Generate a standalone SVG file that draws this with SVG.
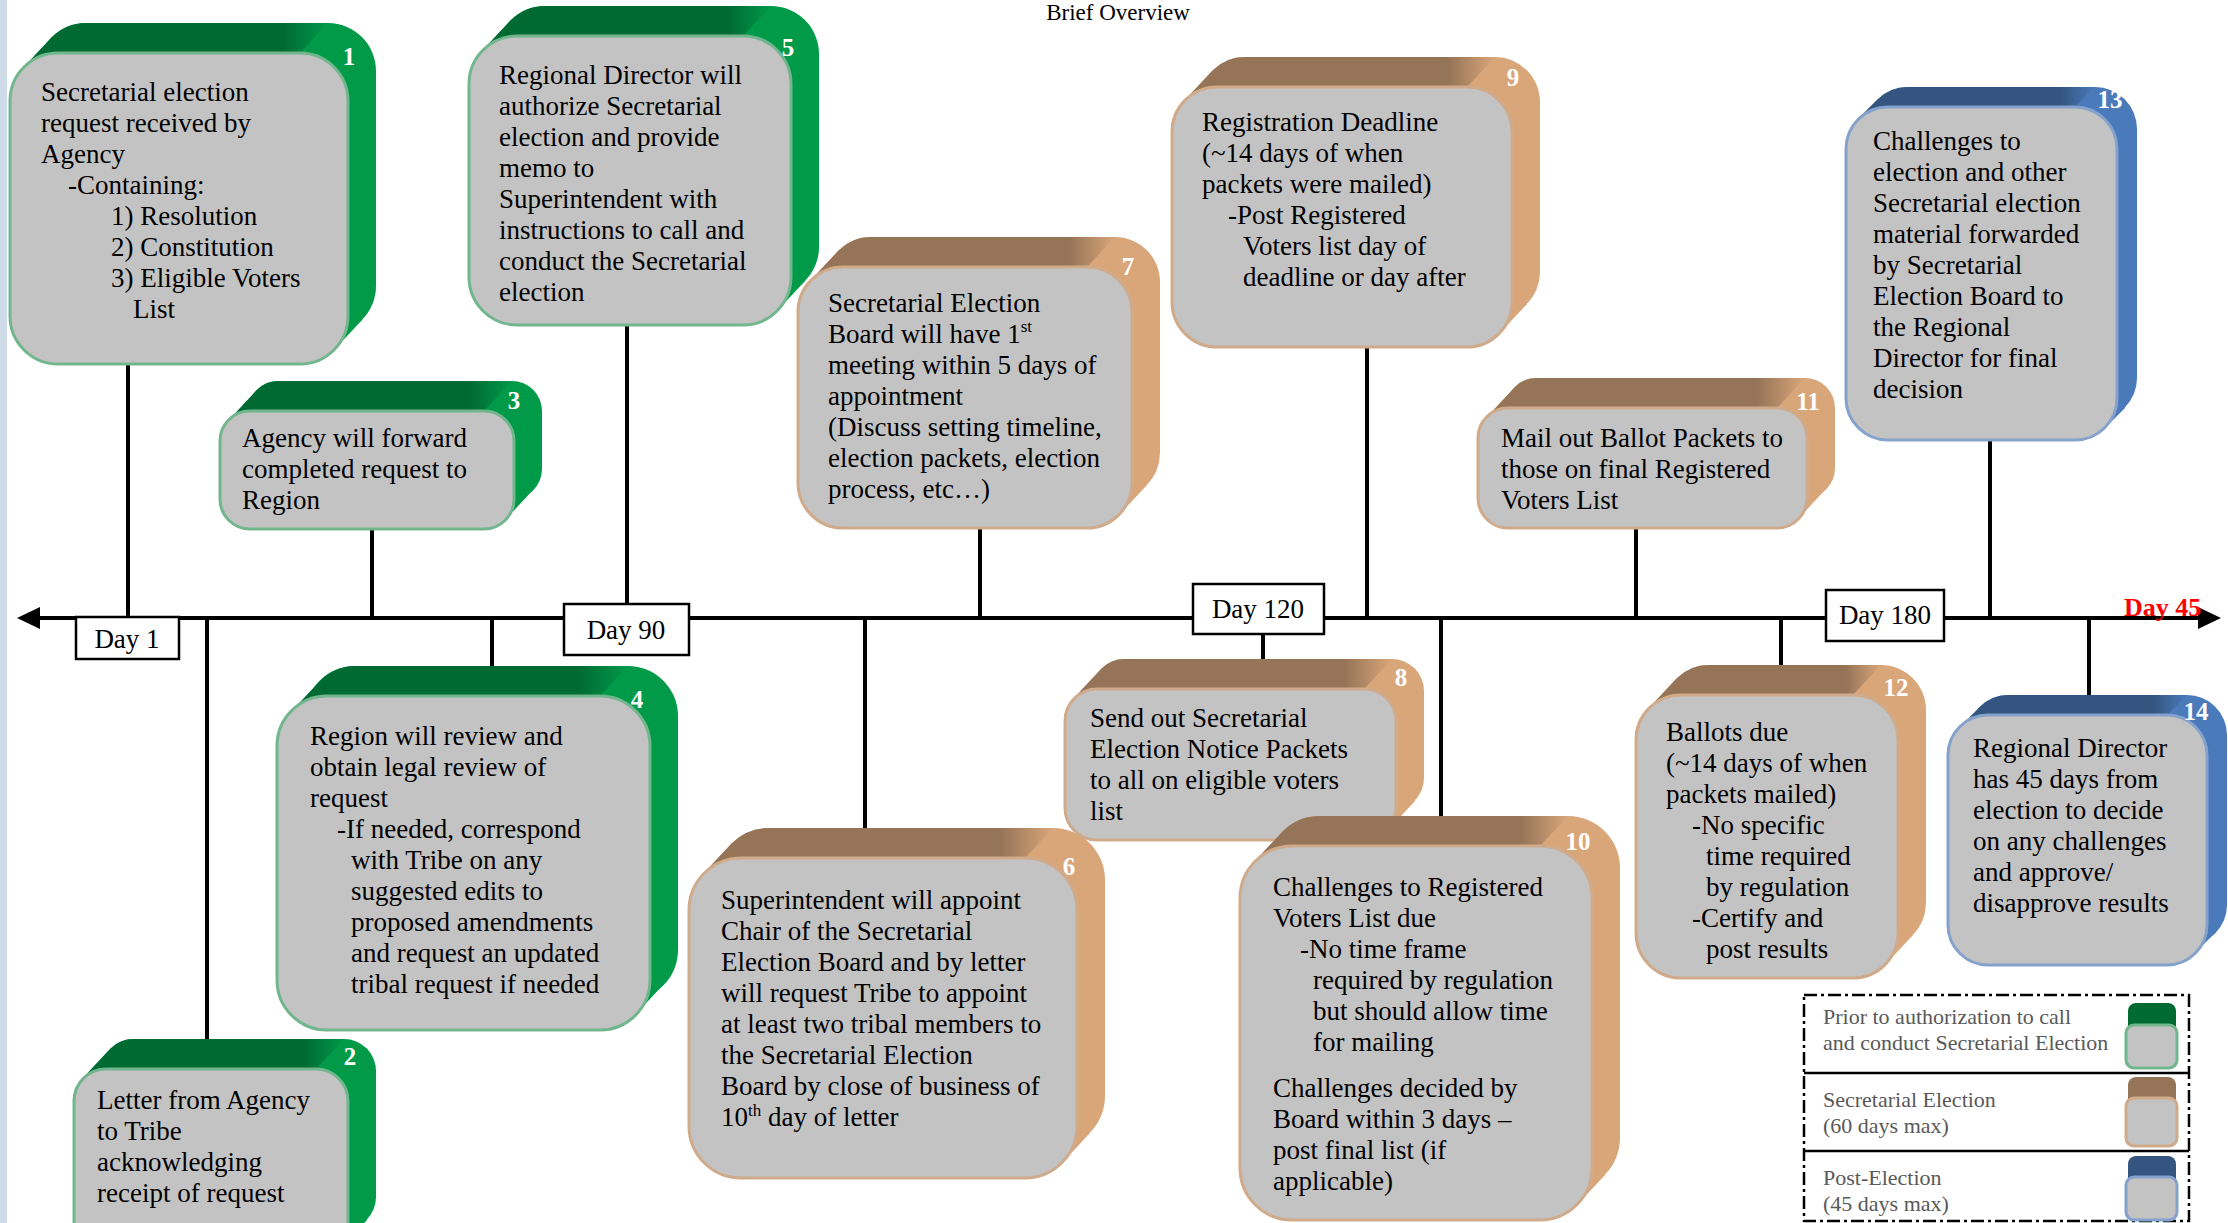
<svg xmlns="http://www.w3.org/2000/svg" width="2228" height="1223" viewBox="0 0 2228 1223">
<defs>
<linearGradient id="gTop" x1="0" y1="0" x2="1" y2="0"><stop offset="0" stop-color="#006a33"/><stop offset="0.85" stop-color="#006a33"/><stop offset="1" stop-color="#00994a"/></linearGradient>
<linearGradient id="bTop" x1="0" y1="0" x2="1" y2="0"><stop offset="0" stop-color="#967457"/><stop offset="0.85" stop-color="#967457"/><stop offset="1" stop-color="#d9a67a"/></linearGradient>
<linearGradient id="uTop" x1="0" y1="0" x2="1" y2="0"><stop offset="0" stop-color="#33557f"/><stop offset="0.85" stop-color="#33557f"/><stop offset="1" stop-color="#4a7aba"/></linearGradient>
</defs>
<style>
.face{fill:#c3c3c3;stroke-width:3}
.g .face{stroke:#72b68e}.g .side{fill:#009a48}.g .top{fill:url(#gTop)}
.b .face{stroke:#cfab8c}.b .side{fill:#d9a67a}.b .top{fill:url(#bTop)}
.u .face{stroke:#84a2cb}.u .side{fill:#4a7aba}.u .top{fill:url(#uTop)}
.t{font-family:"Liberation Serif","Times New Roman",serif;font-size:27px;fill:#000}
.n{font-family:"Liberation Serif",serif;font-size:25px;font-weight:bold;fill:#fff;text-anchor:middle}
.day{fill:#fff;stroke:#000;stroke-width:2.5}
.dt{font-family:"Liberation Serif",serif;font-size:27px;fill:#000;text-anchor:middle}
.con line{stroke:#000;stroke-width:4}
.lg{font-family:"Liberation Serif",serif;font-size:22px;fill:#595959}
</style>
<rect x="0" y="0" width="2228" height="1223" fill="#fff"/>
<rect x="0" y="0" width="7" height="1223" fill="#cfdce8"/>
<text x="1118" y="20" font-family="Liberation Serif,serif" font-size="23" text-anchor="middle">Brief Overview</text>

<g id="connectors" class="con">
<line x1="22" y1="618" x2="2205" y2="618" stroke-width="6"/>
<line x1="128" y1="364" x2="128" y2="618"/>
<line x1="207" y1="618" x2="207" y2="1040"/>
<line x1="372" y1="529" x2="372" y2="618"/>
<line x1="492" y1="618" x2="492" y2="667"/>
<line x1="627" y1="325" x2="627" y2="604"/>
<line x1="865" y1="618" x2="865" y2="829"/>
<line x1="980" y1="528" x2="980" y2="618"/>
<line x1="1263" y1="634" x2="1263" y2="660"/>
<line x1="1367" y1="347" x2="1367" y2="618"/>
<line x1="1441" y1="618" x2="1441" y2="817"/>
<line x1="1636" y1="528" x2="1636" y2="618"/>
<line x1="1781" y1="618" x2="1781" y2="666"/>
<line x1="1990" y1="440" x2="1990" y2="618"/>
<line x1="2089" y1="618" x2="2089" y2="696"/>
<polygon points="17,618 40,607 40,629" fill="#000"/>
<polygon points="2221,618 2198,607 2198,629" fill="#000"/>
</g>

<g id="days">
<rect class="day" x="76" y="617" width="103" height="42"/><text class="dt" x="127" y="648">Day 1</text>
<rect class="day" x="564" y="604" width="125" height="51"/><text class="dt" x="626" y="639">Day 90</text>
<rect class="day" x="1193" y="584" width="131" height="50"/><text class="dt" x="1258" y="618">Day 120</text>
<rect class="day" x="1826" y="590" width="118" height="51"/><text class="dt" x="1885" y="624">Day 180</text>
<text x="2124" y="616" font-family="Liberation Serif,serif" font-size="26" font-weight="bold" fill="#ff0000">Day 45</text>
</g>

<g id="node1" class="g">
<g transform="translate(10,53)">
<rect class="side" x="28" y="-30" width="338" height="311" rx="48"/>
<polygon class="side" points="14,14 42,-16 352,267 324,297"/>
<path class="top" d="M14,14 L42,-16 A48 48 0 0 1 76,-30 H318 L290,0 H48 Z"/>
<rect class="face" width="338" height="311" rx="48"/>
</g>
<text class="n" x="349" y="65">1</text>
<text class="t" x="41" y="101">Secretarial election<tspan x="41" dy="31">request received by</tspan><tspan x="41" dy="31">Agency</tspan><tspan x="68" dy="31">-Containing:</tspan><tspan x="111" dy="31">1) Resolution</tspan><tspan x="111" dy="31">2) Constitution</tspan><tspan x="111" dy="31">3) Eligible Voters</tspan><tspan x="133" dy="31">List</tspan></text>
</g>

<g id="node2" class="g">
<g transform="translate(74,1069)">
<rect class="side" x="28" y="-30" width="274" height="190" rx="32"/>
<polygon class="side" points="9,9 37,-21 293,151 265,181"/>
<path class="top" d="M9,9 L37,-21 A32 32 0 0 1 60,-30 H270 L242,0 H32 Z"/>
<rect class="face" width="274" height="190" rx="32"/>
</g>
<text class="n" x="350" y="1065">2</text>
<text class="t" x="97" y="1109">Letter from Agency<tspan x="97" dy="31">to Tribe</tspan><tspan x="97" dy="31">acknowledging</tspan><tspan x="97" dy="31">receipt of request</tspan></text>
</g>

<g id="node3" class="g">
<g transform="translate(220,411)">
<rect class="side" x="28" y="-30" width="294" height="118" rx="30"/>
<polygon class="side" points="9,9 37,-21 313,79 285,109"/>
<path class="top" d="M9,9 L37,-21 A30 30 0 0 1 58,-30 H292 L264,0 H30 Z"/>
<rect class="face" width="294" height="118" rx="30"/>
</g>
<text class="n" x="514" y="409">3</text>
<text class="t" x="242" y="447">Agency will forward<tspan x="242" dy="31">completed request to</tspan><tspan x="242" dy="31">Region</tspan></text>
</g>

<g id="node4" class="g">
<g transform="translate(277,696)">
<rect class="side" x="28" y="-30" width="373" height="334" rx="50"/>
<polygon class="side" points="15,15 43,-15 386,289 358,319"/>
<path class="top" d="M15,15 L43,-15 A50 50 0 0 1 78,-30 H351 L323,0 H50 Z"/>
<rect class="face" width="373" height="334" rx="50"/>
</g>
<text class="n" x="637" y="708">4</text>
<text class="t" x="310" y="745">Region will review and<tspan x="310" dy="31">obtain legal review of</tspan><tspan x="310" dy="31">request</tspan><tspan x="337" dy="31">-If needed, correspond</tspan><tspan x="351" dy="31">with Tribe on any</tspan><tspan x="351" dy="31">suggested edits to</tspan><tspan x="351" dy="31">proposed amendments</tspan><tspan x="351" dy="31">and request an updated</tspan><tspan x="351" dy="31">tribal request if needed</tspan></text>
</g>

<g id="node5" class="g">
<g transform="translate(469,36)">
<rect class="side" x="28" y="-30" width="322" height="289" rx="48"/>
<polygon class="side" points="14,14 42,-16 336,245 308,275"/>
<path class="top" d="M14,14 L42,-16 A48 48 0 0 1 76,-30 H302 L274,0 H48 Z"/>
<rect class="face" width="322" height="289" rx="48"/>
</g>
<text class="n" x="788" y="56">5</text>
<text class="t" x="499" y="84">Regional Director will<tspan x="499" dy="31">authorize Secretarial</tspan><tspan x="499" dy="31">election and provide</tspan><tspan x="499" dy="31">memo to</tspan><tspan x="499" dy="31">Superintendent with</tspan><tspan x="499" dy="31">instructions to call and</tspan><tspan x="499" dy="31">conduct the Secretarial</tspan><tspan x="499" dy="31">election</tspan></text>
</g>

<g id="node6" class="b">
<g transform="translate(689,858)">
<rect class="side" x="28" y="-30" width="388" height="320" rx="52"/>
<polygon class="side" points="15,15 43,-15 401,275 373,305"/>
<path class="top" d="M15,15 L43,-15 A52 52 0 0 1 80,-30 H364 L336,0 H52 Z"/>
<rect class="face" width="388" height="320" rx="52"/>
</g>
<text class="n" x="1069" y="875">6</text>
<text class="t" x="721" y="909">Superintendent will appoint<tspan x="721" dy="31">Chair of the Secretarial</tspan><tspan x="721" dy="31">Election Board and by letter</tspan><tspan x="721" dy="31">will request Tribe to appoint</tspan><tspan x="721" dy="31">at least two tribal members to</tspan><tspan x="721" dy="31">the Secretarial Election</tspan><tspan x="721" dy="31">Board by close of business of</tspan><tspan x="721" dy="31">10</tspan><tspan dy="-10" font-size="17">th</tspan><tspan dy="10"> day of letter</tspan></text>
</g>

<g id="node7" class="b">
<g transform="translate(798,267)">
<rect class="side" x="28" y="-30" width="334" height="261" rx="45"/>
<polygon class="side" points="13,13 41,-17 349,218 321,248"/>
<path class="top" d="M13,13 L41,-17 A45 45 0 0 1 73,-30 H317 L289,0 H45 Z"/>
<rect class="face" width="334" height="261" rx="45"/>
</g>
<text class="n" x="1128" y="275">7</text>
<text class="t" x="828" y="312">Secretarial Election<tspan x="828" dy="31">Board will have 1</tspan><tspan dy="-11" font-size="17">st</tspan><tspan x="828" dy="42">meeting within 5 days of</tspan><tspan x="828" dy="31">appointment</tspan><tspan x="828" dy="31">(Discuss setting timeline,</tspan><tspan x="828" dy="31">election packets, election</tspan><tspan x="828" dy="31">process, etc…)</tspan></text>
</g>

<g id="node8" class="b">
<g transform="translate(1065,689)">
<rect class="side" x="28" y="-30" width="331" height="151" rx="32"/>
<polygon class="side" points="9,9 37,-21 350,112 322,142"/>
<path class="top" d="M9,9 L37,-21 A32 32 0 0 1 60,-30 H327 L299,0 H32 Z"/>
<rect class="face" width="331" height="151" rx="32"/>
</g>
<text class="n" x="1401" y="686">8</text>
<text class="t" x="1090" y="727">Send out Secretarial<tspan x="1090" dy="31">Election Notice Packets</tspan><tspan x="1090" dy="31">to all on eligible voters</tspan><tspan x="1090" dy="31">list</tspan></text>
</g>

<g id="node9" class="b">
<g transform="translate(1172,87)">
<rect class="side" x="28" y="-30" width="340" height="260" rx="45"/>
<polygon class="side" points="13,13 41,-17 355,217 327,247"/>
<path class="top" d="M13,13 L41,-17 A45 45 0 0 1 73,-30 H323 L295,0 H45 Z"/>
<rect class="face" width="340" height="260" rx="45"/>
</g>
<text class="n" x="1513" y="86">9</text>
<text class="t" x="1202" y="131">Registration Deadline<tspan x="1202" dy="31">(~14 days of when</tspan><tspan x="1202" dy="31">packets were mailed)</tspan><tspan x="1228" dy="31">-Post Registered</tspan><tspan x="1243" dy="31">Voters list day of</tspan><tspan x="1243" dy="31">deadline or day after</tspan></text>
</g>

<g id="node10" class="b">
<g transform="translate(1240,846)">
<rect class="side" x="28" y="-30" width="352" height="374" rx="52"/>
<polygon class="side" points="15,15 43,-15 365,329 337,359"/>
<path class="top" d="M15,15 L43,-15 A52 52 0 0 1 80,-30 H328 L300,0 H52 Z"/>
<rect class="face" width="352" height="374" rx="52"/>
</g>
<text class="n" x="1578" y="850">10</text>
<text class="t" x="1273" y="896">Challenges to Registered<tspan x="1273" dy="31">Voters List due</tspan><tspan x="1300" dy="31">-No time frame</tspan><tspan x="1313" dy="31">required by regulation</tspan><tspan x="1313" dy="31">but should allow time</tspan><tspan x="1313" dy="31">for mailing</tspan><tspan x="1273" dy="46">Challenges decided by</tspan><tspan x="1273" dy="31">Board within 3 days –</tspan><tspan x="1273" dy="31">post final list (if</tspan><tspan x="1273" dy="31">applicable)</tspan></text>
</g>

<g id="node11" class="b">
<g transform="translate(1478,408)">
<rect class="side" x="28" y="-30" width="329" height="120" rx="30"/>
<polygon class="side" points="9,9 37,-21 348,81 320,111"/>
<path class="top" d="M9,9 L37,-21 A30 30 0 0 1 58,-30 H327 L299,0 H30 Z"/>
<rect class="face" width="329" height="120" rx="30"/>
</g>
<text class="n" x="1808" y="410">11</text>
<text class="t" x="1501" y="447">Mail out Ballot Packets to<tspan x="1501" dy="31">those on final Registered</tspan><tspan x="1501" dy="31">Voters List</tspan></text>
</g>

<g id="node12" class="b">
<g transform="translate(1636,695)">
<rect class="side" x="28" y="-30" width="262" height="283" rx="45"/>
<polygon class="side" points="13,13 41,-17 277,240 249,270"/>
<path class="top" d="M13,13 L41,-17 A45 45 0 0 1 73,-30 H245 L217,0 H45 Z"/>
<rect class="face" width="262" height="283" rx="45"/>
</g>
<text class="n" x="1896" y="696">12</text>
<text class="t" x="1666" y="741">Ballots due<tspan x="1666" dy="31">(~14 days of when</tspan><tspan x="1666" dy="31">packets mailed)</tspan><tspan x="1692" dy="31">-No specific</tspan><tspan x="1706" dy="31">time required</tspan><tspan x="1706" dy="31">by regulation</tspan><tspan x="1692" dy="31">-Certify and</tspan><tspan x="1706" dy="31">post results</tspan></text>
</g>

<g id="node13" class="u">
<g transform="translate(1846,107)">
<rect class="side" x="20" y="-20" width="271" height="333" rx="42"/>
<polygon class="side" points="12,12 32,-8 279,301 259,321"/>
<path class="top" d="M12,12 L32,-8 A42 42 0 0 1 62,-20 H249 L229,0 H42 Z"/>
<rect class="face" width="271" height="333" rx="42"/>
</g>
<text class="n" x="2110" y="108">13</text>
<text class="t" x="1873" y="150">Challenges to<tspan x="1873" dy="31">election and other</tspan><tspan x="1873" dy="31">Secretarial election</tspan><tspan x="1873" dy="31">material forwarded</tspan><tspan x="1873" dy="31">by Secretarial</tspan><tspan x="1873" dy="31">Election Board to</tspan><tspan x="1873" dy="31">the Regional</tspan><tspan x="1873" dy="31">Director for final</tspan><tspan x="1873" dy="31">decision</tspan></text>
</g>

<g id="node14" class="u">
<g transform="translate(1948,715)">
<rect class="side" x="20" y="-20" width="259" height="250" rx="40"/>
<polygon class="side" points="12,12 32,-8 267,218 247,238"/>
<path class="top" d="M12,12 L32,-8 A40 40 0 0 1 60,-20 H239 L219,0 H40 Z"/>
<rect class="face" width="259" height="250" rx="40"/>
</g>
<text class="n" x="2196" y="720">14</text>
<text class="t" x="1973" y="757">Regional Director<tspan x="1973" dy="31">has 45 days from</tspan><tspan x="1973" dy="31">election to decide</tspan><tspan x="1973" dy="31">on any challenges</tspan><tspan x="1973" dy="31">and approve/</tspan><tspan x="1973" dy="31">disapprove results</tspan></text>
</g>

<g id="legend">
<rect x="1804" y="995" width="385" height="226" fill="none" stroke="#000" stroke-width="2.5" stroke-dasharray="13 4 3 4"/>
<line x1="1804" y1="1073" x2="2189" y2="1073" stroke="#000" stroke-width="2.5"/>
<line x1="1804" y1="1151" x2="2189" y2="1151" stroke="#000" stroke-width="2.5"/>
<text class="lg" x="1823" y="1024">Prior to authorization to call<tspan x="1823" dy="26">and conduct Secretarial Election</tspan></text>
<text class="lg" x="1823" y="1107">Secretarial Election<tspan x="1823" dy="26">(60 days max)</tspan></text>
<text class="lg" x="1823" y="1185">Post-Election<tspan x="1823" dy="26">(45 days max)</tspan></text>
<g class="g"><rect x="2128" y="1003" width="48" height="40" rx="8" fill="#006a33"/><rect class="face" x="2126" y="1025" width="51" height="43" rx="8"/></g>
<g class="b"><rect x="2128" y="1077" width="48" height="40" rx="8" fill="#967457"/><rect class="face" x="2126" y="1098" width="51" height="48" rx="8"/></g>
<g class="u"><rect x="2128" y="1156" width="48" height="40" rx="8" fill="#33557f"/><rect class="face" x="2126" y="1177" width="51" height="43" rx="8"/></g>
</g>
</svg>
